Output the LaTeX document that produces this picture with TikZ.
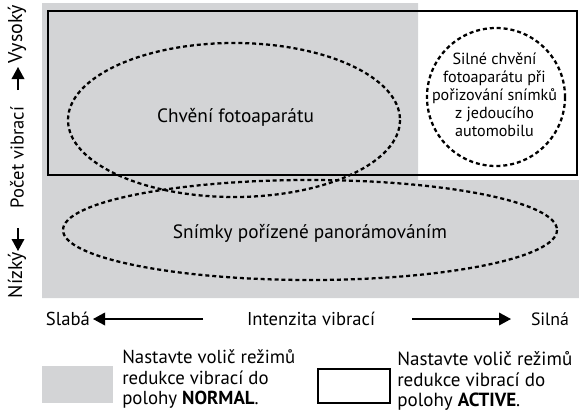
\documentclass[tikz,border=0pt]{standalone}
\usepackage{fontspec}
\setmainfont{PT Sans}
\usetikzlibrary{arrows.meta}
\definecolor{grayfill}{RGB}{211,212,214}
\newlength{\pxu}
\setlength{\pxu}{0.75pt}
\newcommand{\fitw}[2]{\resizebox{#1\pxu}{!}{#2}}
\begin{document}
\begin{tikzpicture}[x=0.75pt,y=-0.75pt,
  txt/.style={font=\fontsize{14}{15}\selectfont, inner sep=0pt},
  dots/.style={line width=1.7pt, dash pattern=on 3pt off 2.2pt},
  frame/.style={line width=1.3pt},
  arr/.style={line width=1pt, -{Triangle[length=9pt,width=9.5pt]}}]
\useasboundingbox (0,0) rectangle (579,412);
% gray area
\fill[grayfill] (42,3) -- (418,3) -- (418,180) -- (579,180) -- (579,298) -- (42,298) -- cycle;
% ACTIVE rectangle
\draw[frame] (48,11) rectangle (577,175);
% ellipses
\draw[dots] (234,120) ellipse [x radius=166, y radius=77];
\draw[dots] (310,230) ellipse [x radius=247, y radius=50];
\draw[dots] (496,97) circle [radius=69];
% texts inside
\node[txt] (chveni) at (235.5,117) {\fitw{157}{Chvění fotoaparátu}};
\node[txt] (snimky) at (310,233) {\fitw{274}{Snímky pořízené panorámováním}};
\node[txt] (silne) at (494.5,97) {\fitw{125}{\fontsize{13}{14.6}\selectfont\begin{tabular}{@{}c@{}}Silné chvění\\fotoaparátu při\\pořizování snímků\\z jedoucího\\automobilu\end{tabular}}};
% vertical axis
\node[txt, rotate=90] (nizky) at (17,275) {\fitw{46}{Nízký}};
\node[txt, rotate=90] (pocet) at (17,157.5) {\fitw{101}{Počet vibrací}};
\node[txt, rotate=90] (vysoky) at (17,34) {\fitw{58}{Vysoký}};
\coordinate (d1) at (18,228);
\coordinate (d2) at (18,251);
\coordinate (u1) at (18,90);
\coordinate (u2) at (18,67);
\draw[arr] (d1) -- (d2);
\draw[arr] (u1) -- (u2);
% horizontal axis
\node[txt] (slaba) at (68,319) {\fitw{44}{Slabá}};
\node[txt] (intenzita) at (311,319) {\fitw{128}{Intenzita vibrací}};
\node[txt] (silna) at (550,319) {\fitw{38}{Silná}};
\coordinate (l1) at (203,319);
\coordinate (l2) at (93,319);
\coordinate (r1) at (412,319);
\coordinate (r2) at (511,319);
\draw[arr] (l1) -- (l2);
\draw[arr] (r1) -- (r2);
% legend
\fill[grayfill] (42,366) rectangle (113,403);
\draw[line width=0.9pt] (318,369) rectangle (390,403);
\node[txt, anchor=west] (legn) at (122,380) {\fitw{173}{\fontsize{14}{15}\selectfont\begin{tabular}{@{}l@{}}Nastavte volič režimů\\redukce vibrací do\\polohy \textbf{NORMAL}.\end{tabular}}};
\node[txt, anchor=west] (lega) at (397,382) {\fitw{175}{\fontsize{14}{15}\selectfont\begin{tabular}{@{}l@{}}Nastavte volič režimů\\redukce vibrací do\\polohy \textbf{ACTIVE}.\end{tabular}}};
\end{tikzpicture}
\end{document}
